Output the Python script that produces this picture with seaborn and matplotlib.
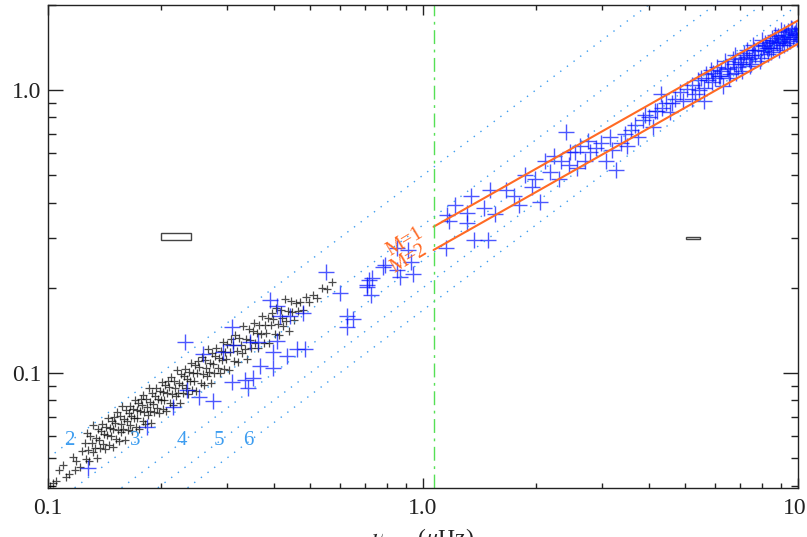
import numpy as np
import matplotlib
matplotlib.use("Agg")
import matplotlib.pyplot as plt
import seaborn as sns
from matplotlib.patches import Rectangle
from matplotlib.ticker import FixedLocator, FixedFormatter, LogLocator, NullFormatter

sns.set_style("ticks")
plt.rcParams['font.family'] = ['Liberation Serif', 'DejaVu Serif']
plt.rcParams['mathtext.fontset'] = 'stix'

# black (small) crosses
black_x = [0.101, 0.103, 0.105, 0.107, 0.1097, 0.112, 0.114, 0.1166, 0.119, 0.1218, 0.123, 0.118,
           0.1255, 0.1262, 0.1270, 0.1281, 0.1290, 0.1297, 0.1308, 0.1315, 0.1322, 0.1334, 0.1341, 0.1350,
           0.1358, 0.1366, 0.1373, 0.1385, 0.1392, 0.1401, 0.1410, 0.1418, 0.1426, 0.1437, 0.1444, 0.1452,
           0.1463, 0.1471, 0.1480, 0.1488, 0.1495, 0.1503,
           0.1512, 0.1521, 0.1530, 0.1537, 0.1546, 0.1555, 0.1561, 0.1570, 0.1578, 0.1587, 0.1596, 0.1604,
           0.1612, 0.1621, 0.1630, 0.1641, 0.1650, 0.1658, 0.1667, 0.1676, 0.1685, 0.1694, 0.1703, 0.1712,
           0.1722, 0.1731, 0.1740, 0.1750, 0.1759, 0.1768, 0.1778, 0.1787, 0.1797, 0.1806, 0.1816, 0.1826,
           0.1836, 0.1846, 0.1856, 0.1866, 0.1876, 0.1887, 0.1897, 0.1908, 0.1918, 0.1929, 0.1940, 0.1951,
           0.1962, 0.1973, 0.1985, 0.1996,
           0.2008, 0.2020, 0.2032, 0.2044, 0.2056, 0.2068, 0.2081, 0.2093, 0.2106, 0.2118, 0.2131, 0.2144,
           0.2157, 0.2170, 0.2183, 0.2196, 0.2210, 0.2223, 0.2237, 0.2251, 0.2264, 0.2278, 0.2292, 0.2307,
           0.2321, 0.2335, 0.2350, 0.2365, 0.2379, 0.2394, 0.2409, 0.2425, 0.2440, 0.2455, 0.2471, 0.2487,
           0.2502, 0.2518, 0.2534, 0.2551, 0.2567, 0.2584, 0.2600, 0.2617, 0.2634, 0.2651, 0.2669, 0.2686,
           0.2704, 0.2722, 0.2740, 0.2758, 0.2776, 0.2794, 0.2813, 0.2832, 0.2851, 0.2870, 0.2889, 0.2908,
           0.2928, 0.2948, 0.2968, 0.2988,
           0.3010, 0.3035, 0.3060, 0.3085, 0.3110, 0.3135, 0.3160, 0.3186, 0.3212, 0.3238, 0.3264, 0.3291,
           0.3318, 0.3345, 0.3372, 0.3400, 0.3428, 0.3456, 0.3485, 0.3514, 0.3543, 0.3573, 0.3603, 0.3633,
           0.3664, 0.3695, 0.3726, 0.3758, 0.3790, 0.3822, 0.3855, 0.3888, 0.3921, 0.3955, 0.3990, 0.4025,
           0.4060, 0.4096, 0.4132, 0.4169, 0.4206, 0.4244, 0.4282, 0.4321, 0.4361, 0.4401, 0.4442, 0.4484,
           0.4530, 0.4580, 0.4640, 0.4710, 0.4790, 0.4880, 0.4980, 0.5100, 0.5230, 0.5380, 0.5540, 0.5720]
black_y = [0.0400, 0.0409, 0.0415, 0.0452, 0.0473, 0.0430, 0.0441, 0.0506, 0.0488, 0.0465, 0.0530, 0.0455,
           0.0565, 0.0495, 0.0615, 0.0536, 0.0490, 0.0599, 0.0564, 0.0527, 0.0655, 0.0545, 0.0588, 0.0499,
           0.0635, 0.0580, 0.0541, 0.0624, 0.0662, 0.0563, 0.0609, 0.0539, 0.0645, 0.0601, 0.0695, 0.0556,
           0.0641, 0.0600, 0.0678, 0.0549, 0.0634, 0.0701,
           0.0666, 0.0585, 0.0725, 0.0630, 0.0575, 0.0702, 0.0658, 0.0616, 0.0765, 0.0635, 0.0685, 0.0580,
           0.0738, 0.0674, 0.0629, 0.0722, 0.0767, 0.0652, 0.0705, 0.0624, 0.0746, 0.0694, 0.0803, 0.0643,
           0.0740, 0.0692, 0.0782, 0.0633, 0.0731, 0.0807, 0.0768, 0.0674, 0.0834, 0.0726, 0.0662, 0.0808,
           0.0759, 0.0709, 0.0881, 0.0731, 0.0788, 0.0668, 0.0851, 0.0777, 0.0726, 0.0832, 0.0884, 0.0752,
           0.0812, 0.0719, 0.0861, 0.0801,
           0.0928, 0.0743, 0.0854, 0.0801, 0.0905, 0.0733, 0.0847, 0.0936, 0.0890, 0.0783, 0.0969, 0.0843,
           0.0769, 0.0939, 0.0883, 0.0826, 0.1027, 0.0852, 0.0920, 0.0780, 0.0994, 0.0908, 0.0848, 0.0973,
           0.1035, 0.0881, 0.0951, 0.0844, 0.1010, 0.0939, 0.1088, 0.0872, 0.1003, 0.0940, 0.1064, 0.0861,
           0.0996, 0.1101, 0.1047, 0.0922, 0.1140, 0.0993, 0.0906, 0.1107, 0.1041, 0.0974, 0.1211, 0.1006,
           0.1086, 0.0921, 0.1175, 0.1073, 0.1003, 0.1151, 0.1223, 0.1042, 0.1126, 0.0999, 0.1196, 0.1112,
           0.1290, 0.1033, 0.1190, 0.1116,
           0.1263, 0.1025, 0.1186, 0.1315, 0.1251, 0.1103, 0.1366, 0.1192, 0.1089, 0.1334, 0.1255, 0.1176,
           0.1464, 0.1218, 0.1318, 0.1119, 0.1428, 0.1307, 0.1223, 0.1406, 0.1496, 0.1277, 0.1382, 0.1226,
           0.1471, 0.1371, 0.1592, 0.1278, 0.1474, 0.1383, 0.1568, 0.1273, 0.1474, 0.1634, 0.1557, 0.1372,
           0.1702, 0.1485, 0.1358, 0.1664, 0.1567, 0.1469, 0.1831, 0.1524, 0.1649, 0.1402, 0.1791, 0.1640,
           0.1538, 0.1772, 0.1656, 0.1782, 0.1668, 0.1855, 0.1780, 0.1891, 0.1838, 0.2000, 0.1973, 0.2090]

# blue (large) crosses
blue_x = [0.128, 0.184, 0.216, 0.235, 0.252, 0.276, 0.310, 0.232, 0.259, 0.292, 0.312, 0.310, 0.336, 0.352,
          0.342, 0.368, 0.399, 0.399, 0.435, 0.462, 0.486, 0.409, 0.392, 0.409, 0.416, 0.443, 0.479, 0.363,
          0.346, 0.602, 0.628, 0.628, 0.552, 0.650, 0.711, 0.725, 0.730, 0.794, 0.850, 0.850, 0.930, 0.910,
          0.940, 0.870, 0.780, 0.710, 0.720,
          1.156, 1.31, 1.31, 1.37, 1.15, 1.17, 1.22, 1.34, 1.45, 1.51, 1.56, 1.49, 1.66, 1.75, 1.80, 1.87,
          1.95, 1.99, 2.05, 2.12, 2.18, 2.23, 2.30, 2.33, 2.40, 2.45, 2.47, 2.55, 2.58, 2.62, 2.70, 2.75,
          2.79, 2.90, 2.98,
          3.08, 3.15, 3.20, 3.28, 3.37, 3.45, 3.50, 3.58, 3.67, 3.75, 3.85, 3.90, 4.00, 4.10, 4.16, 4.30,
          4.35, 4.45, 4.55, 4.70, 4.85, 4.95, 4.6, 4.2,
          5.05, 5.2, 5.3, 5.4, 5.5, 5.6, 5.7, 5.85, 5.9, 6.0, 6.1, 6.2, 6.3, 6.4, 6.5, 6.6, 6.7, 6.8, 6.9,
          7.0, 7.1, 7.2, 7.3, 7.4, 7.5, 7.6, 7.7, 7.8, 7.9, 8.0, 8.1, 8.2, 8.3, 8.4, 8.5, 8.6, 8.7, 8.8,
          8.9, 9.0, 9.1, 9.2, 9.3, 9.4, 9.5, 9.6, 9.7, 9.8, 9.9, 9.95, 7.25, 8.25, 8.75, 9.25, 9.75, 6.25,
          6.75, 5.75, 8.05, 9.05, 5.6, 5.2,
          6.15, 6.45, 6.85, 7.15, 7.45, 7.65, 7.95, 8.15, 8.45, 8.65, 8.95, 9.15, 9.45, 9.65, 9.85, 5.45,
          5.95, 6.55, 7.05, 7.55, 8.35, 8.85, 9.35]
blue_y = [0.0461, 0.0644, 0.0759, 0.0871, 0.0823, 0.0797, 0.0931, 0.1284, 0.1171, 0.1190, 0.1256, 0.1455, 0.0944, 0.0959,
          0.0884, 0.1055, 0.1037, 0.1190, 0.1152, 0.1218, 0.1218, 0.1294, 0.1813, 0.1728, 0.1592, 0.1592, 0.1630, 0.1284,
          0.1284, 0.1918, 0.1583, 0.1455, 0.2278, 0.1545, 0.2043, 0.1880, 0.2160, 0.2403, 0.2316, 0.2765, 0.2460, 0.2726,
          0.2237, 0.2180, 0.2365, 0.2013, 0.2130,
          0.362, 0.368, 0.339, 0.295, 0.277, 0.344, 0.393, 0.422, 0.383, 0.442, 0.364, 0.295, 0.442, 0.422, 0.393, 0.502,
          0.453, 0.483, 0.403, 0.562, 0.512, 0.582, 0.483, 0.562, 0.711, 0.542, 0.602, 0.602, 0.532, 0.632, 0.562, 0.662,
          0.602, 0.622, 0.652,
          0.562, 0.682, 0.612, 0.522, 0.652, 0.701, 0.632, 0.721, 0.752, 0.682, 0.782, 0.813, 0.802, 0.742, 0.843, 0.964,
          0.863, 0.903, 0.833, 0.932, 0.984, 0.913, 0.900, 0.840,
          1.005, 1.045, 0.964, 1.085, 1.105, 1.015, 1.135, 1.175, 1.065, 1.105, 1.207, 1.125, 1.035, 1.268, 1.187, 1.135, 1.288, 1.328, 1.207,
          1.258, 1.165, 1.349, 1.390, 1.288, 1.237, 1.443, 1.328, 1.390, 1.268, 1.503, 1.370, 1.443, 1.339, 1.482, 1.523, 1.412, 1.563, 1.463,
          1.390, 1.624, 1.513, 1.443, 1.563, 1.614, 1.493, 1.654, 1.543, 1.594, 1.624, 1.513, 1.310, 1.412, 1.493, 1.543, 1.573, 1.165,
          1.237, 1.085, 1.433, 1.473, 0.913, 0.932,
          1.12, 1.20, 1.15, 1.30, 1.22, 1.38, 1.30, 1.47, 1.36, 1.50, 1.44, 1.60, 1.52, 1.64, 1.56, 1.00,
          1.15, 1.10, 1.24, 1.33, 1.41, 1.55, 1.47]

# lines of constant numax/dnu
n_orders = [2, 3, 4, 5, 6]
n_label_x = [0.114, 0.171, 0.228, 0.285, 0.342]
n_label_y = 0.0575

# scaling relation for two masses
mass_labels = ['M=1', 'M=2']
mass_coef = [0.313, 0.259]
mass_slope = 0.75
mass_text_x = [0.898, 0.920]
mass_text_y = [0.291, 0.252]

numax_cut = 1.067

# typical error boxes (x0, y0, w, h)
box_x = [0.200, 5.02]
box_y = [0.295, 0.2965]
box_w = [0.040, 0.45]
box_h = [0.0175, 0.0070]

fig = plt.figure(figsize=(8.07, 5.37), dpi=100)
ax = fig.add_axes([48 / 807, 49 / 537, 750 / 807, 483.5 / 537])
ax.set_xscale('log')
ax.set_yscale('log')

line_blue = '#3d9df0'
xx = np.array([0.1, 10.0])
for n in n_orders:
    sns.lineplot(x=xx, y=xx / n, ax=ax, color=line_blue, lw=1.0,
                 linestyle=(0, (1, 5)), legend=False)
for n, lx in zip(n_orders, n_label_x):
    ax.text(lx, n_label_y, str(n), color=line_blue, fontsize=15, ha='center', va='center')

sns.scatterplot(x=black_x, y=black_y, marker='+', s=30, color='black', linewidth=0.9,
                alpha=0.7, ax=ax, legend=False)
sns.scatterplot(x=blue_x, y=blue_y, marker='+', s=120, color='#0010ff', linewidth=1.0,
                alpha=0.7, ax=ax, legend=False)

orange = '#ff6a24'
xm = np.array([numax_cut, 10.0])
for lab, c, tx, ty in zip(mass_labels, mass_coef, mass_text_x, mass_text_y):
    ax.plot(xm, c * xm ** mass_slope, color=orange, lw=1.5)
    ax.text(tx, ty, lab, color=orange, fontsize=14.5, rotation=31,
            ha='center', va='center', rotation_mode='anchor')

ax.axvline(numax_cut, color='#55e055', lw=1.0, linestyle=(0, (10, 4, 2, 4)))

for bx, by, bw, bh in zip(box_x, box_y, box_w, box_h):
    ax.add_patch(Rectangle((bx, by), bw, bh, fill=False, ec='#444444', lw=1.0))

ax.set_xlim(0.1, 10.0)
ax.set_ylim(0.0392, 2.005)

ax.xaxis.set_major_locator(FixedLocator([0.1, 1.0, 10.0]))
ax.xaxis.set_major_formatter(FixedFormatter(['0.1', '1.0', '10.']))
ax.yaxis.set_major_locator(FixedLocator([0.1, 1.0]))
ax.yaxis.set_major_formatter(FixedFormatter(['0.1', '1.0']))
ax.xaxis.set_minor_locator(LogLocator(base=10, subs=np.arange(2, 10)))
ax.yaxis.set_minor_locator(LogLocator(base=10, subs=np.arange(2, 10)))
ax.xaxis.set_minor_formatter(NullFormatter())
ax.yaxis.set_minor_formatter(NullFormatter())

ax.tick_params(axis='both', which='both', direction='in', top=True, right=True,
               colors='#222222', labelcolor='#222222', labelsize=17)
ax.tick_params(axis='x', which='major', length=7.2, width=1.0, pad=7)
ax.tick_params(axis='x', which='minor', length=3.6, width=1.0)
ax.tick_params(axis='y', which='major', length=10.8, width=1.0, pad=5)
ax.tick_params(axis='y', which='minor', length=5.4, width=1.0)
for sp in ax.spines.values():
    sp.set_linewidth(1.0)
    sp.set_color('#222222')

ax.set_xlabel(r'$\nu_{\rm max}$ ($\mu$Hz)', fontsize=17, labelpad=5, color='#222222')

fig.savefig('out.png', dpi=100)
